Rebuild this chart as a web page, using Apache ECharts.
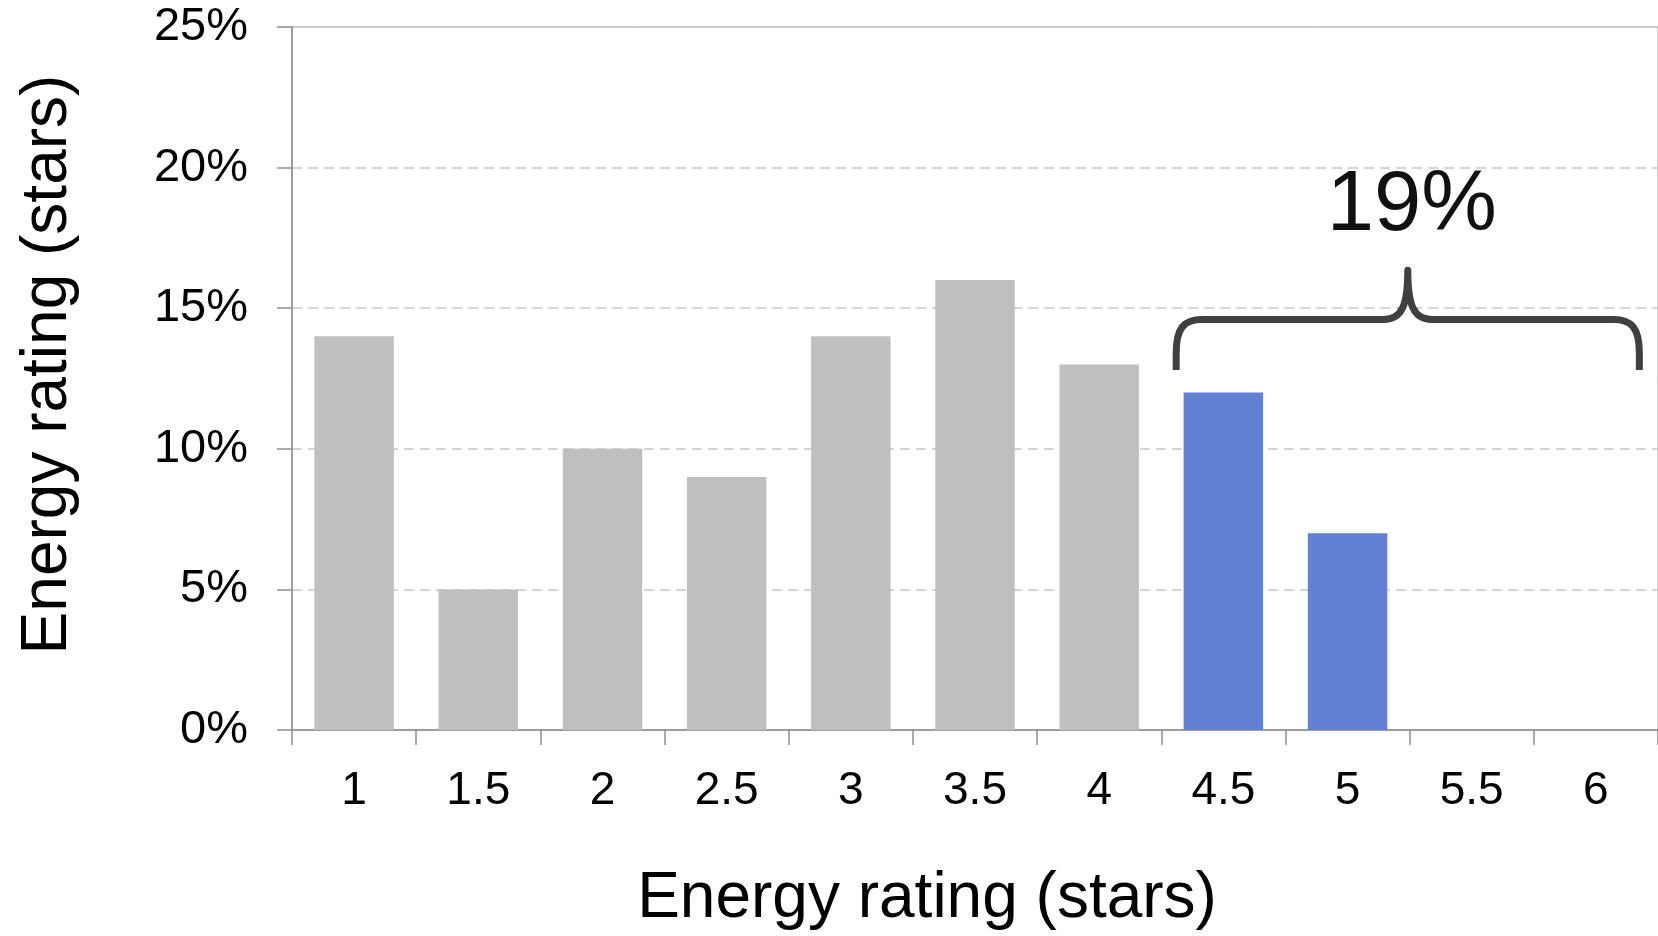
<!DOCTYPE html>
<html>
<head>
<meta charset="utf-8">
<script src="https://cdn.jsdelivr.net/npm/echarts@6/dist/echarts.min.js"></script>
<style>
html,body{margin:0;padding:0;background:#fff;}
#chart{width:1658px;height:936px;}
</style>
</head>
<body>
<div id="chart"></div>
<script>
const categories = ['1','1.5','2','2.5','3','3.5','4','4.5','5','5.5','6'];
const shares = [14, 5, 10, 9, 14, 16, 13, 12, 7, 0, 0];
const highlightFrom = 7; // index of '4.5'
const yTicks = [0, 5, 10, 15, 20, 25];
const braceLabel = '19%';
const braceRange = ['4.5', '6'];
const braceLevels = [12.8, 14.6, 16.35, 18.6]; // ends, bar, tip, label (percent)

const GRAY = '#bfbfbf', BLUE = '#6280d4';
const FONT = 'Liberation Sans, Arial, sans-serif';

const chart = echarts.init(document.getElementById('chart'));

const barData = shares.map((v, i) => ({
  value: v,
  itemStyle: { color: i >= highlightFrom ? BLUE : GRAY }
}));

function renderBrace(params, api) {
  const si = api.value(0), ei = api.value(1);
  const bw = api.size([1, 0])[0];
  const pS = api.coord([si, api.value(2)]);
  const pE = api.coord([ei, api.value(2)]);
  const left = pS[0] - bw / 2 + bw * 0.12;
  const right = pE[0] + bw / 2 - bw * 0.15;
  const yEnd = pS[1];
  const yBar = api.coord([si, api.value(3)])[1];
  const yTip = api.coord([si, api.value(4)])[1];
  const yLab = api.coord([si, api.value(5)])[1];
  const mid = (left + right) / 2;
  const rx = 26, ry = 34, m = 24;
  const d = [
    'M', left, yEnd,
    'L', left, yBar + ry,
    'C', left, yBar + 8, left + 8, yBar, left + rx, yBar,
    'L', mid - m, yBar,
    'C', mid - 6, yBar, mid, yBar - 14, mid, yTip,
    'C', mid, yBar - 14, mid + 6, yBar, mid + m, yBar,
    'L', right - rx, yBar,
    'C', right - 8, yBar, right, yBar + 8, right, yBar + ry,
    'L', right, yEnd
  ].join(' ');
  return {
    type: 'group',
    children: [
      {
        type: 'path',
        shape: { pathData: d },
        style: { fill: 'none', stroke: '#404040', lineWidth: 7, lineJoin: 'round' }
      },
      {
        type: 'text',
        style: {
          x: mid + 4, y: yLab, text: braceLabel,
          fill: '#111', font: '85px ' + FONT,
          align: 'center', verticalAlign: 'middle'
        }
      }
    ]
  };
}

chart.setOption({
  animation: false,
  textStyle: { fontFamily: FONT },
  grid: {
    left: 292, top: 27, bottom: 203, right: -3,
    show: true, borderColor: '#999', borderWidth: 1, backgroundColor: 'transparent'
  },
  xAxis: {
    type: 'category',
    data: categories,
    boundaryGap: true,
    axisLine: { show: true, lineStyle: { color: '#8f8f8f', width: 1.5 } },
    axisTick: { show: true, length: 15, inside: false, alignWithLabel: false, lineStyle: { color: '#8f8f8f', width: 1.5 } },
    axisLabel: { fontSize: 46, color: '#000', margin: 38, fontFamily: FONT },
    name: 'Energy rating (stars)',
    nameLocation: 'middle',
    nameGap: 137,
    nameTextStyle: { fontSize: 64, color: '#000', fontFamily: FONT, padding: [0, 96, 0, 0] },
    splitLine: { show: false }
  },
  yAxis: {
    type: 'value',
    min: yTicks[0], max: yTicks[yTicks.length - 1], interval: 5,
    axisLine: { show: true, lineStyle: { color: '#8f8f8f', width: 1.5 } },
    axisTick: { show: true, length: 15, lineStyle: { color: '#8f8f8f', width: 1.5 } },
    axisLabel: { fontSize: 47, color: '#000', margin: 44, formatter: '{value}%', fontFamily: FONT },
    splitLine: {
      show: true,
      lineStyle: {
        color: ['rgba(0,0,0,0)', '#c8c8c8', '#c8c8c8', '#c8c8c8', '#c8c8c8', 'rgba(0,0,0,0)'],
        type: [10, 6], width: 1.5
      }
    },
    name: 'Energy rating (stars)',
    nameLocation: 'middle',
    nameGap: 212,
    nameRotate: 90,
    nameTextStyle: { fontSize: 64, color: '#000', fontFamily: FONT, padding: [0, 0, 0, 28] }
  },
  series: [
    {
      type: 'bar',
      data: barData,
      barWidth: '64%',
      silent: true
    },
    {
      type: 'custom',
      renderItem: renderBrace,
      clip: false,
      silent: true,
      z: 5,
      encode: { x: [0, 1], y: [2, 3, 4, 5] },
      data: [[braceRange[0], braceRange[1]].concat(braceLevels)]
    }
  ]
});
</script>
</body>
</html>
